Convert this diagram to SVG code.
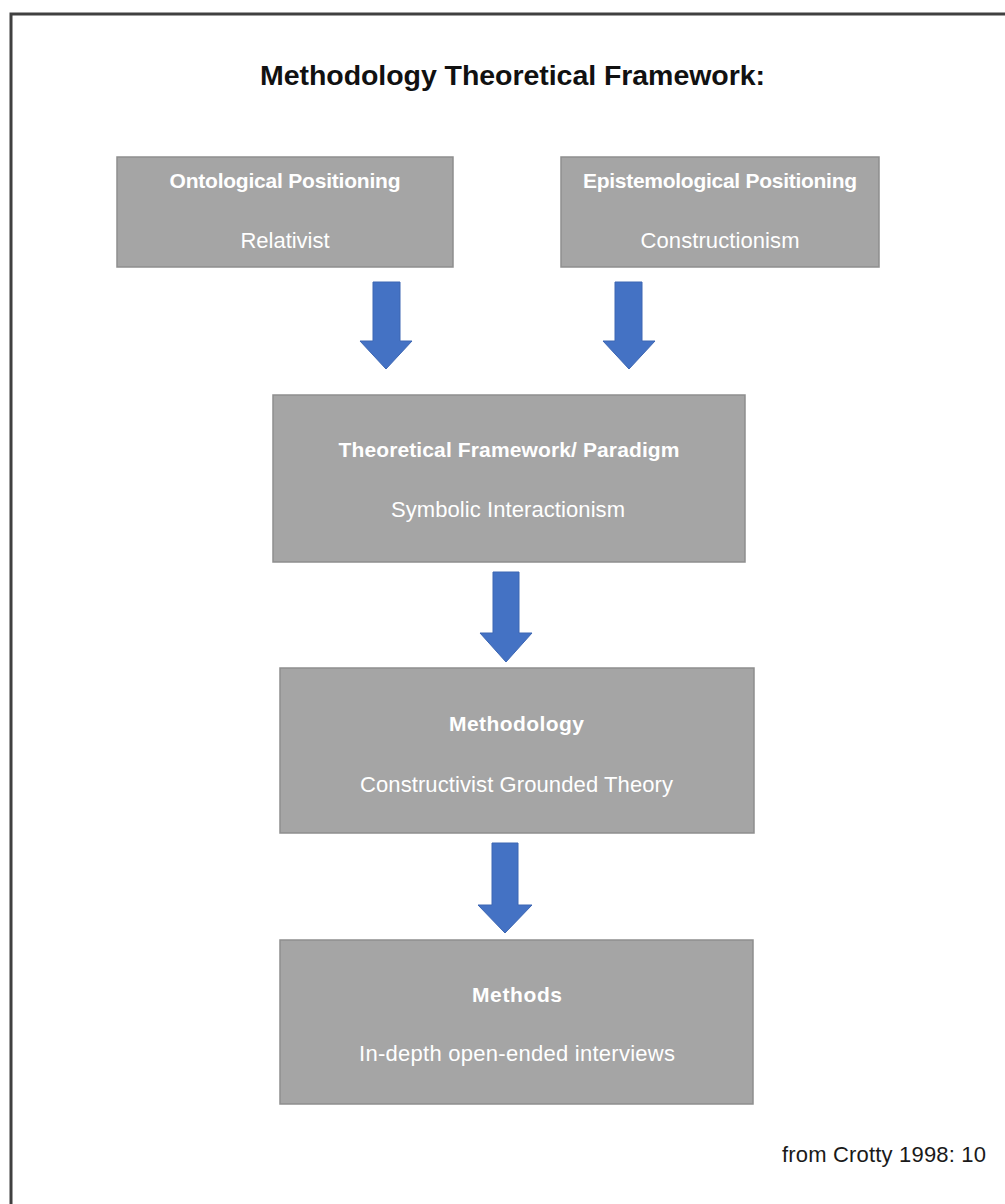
<svg xmlns="http://www.w3.org/2000/svg" width="1005" height="1204" viewBox="0 0 1005 1204">
  <style>
    .frame { fill: none; stroke: #404040; stroke-width: 3; }
    .box { fill: #a5a5a5; stroke: #8e8e8e; stroke-width: 1.5; }
    .head { font-family: "Liberation Sans", Arial, sans-serif; font-weight: bold; font-size: 21px; fill: #ffffff; text-anchor: middle; }
    .sub { font-family: "Liberation Sans", Arial, sans-serif; font-size: 22px; fill: #ffffff; text-anchor: middle; }
    .title { font-family: "Liberation Sans", Arial, sans-serif; font-weight: bold; font-size: 28.5px; fill: #111111; text-anchor: middle; }
    .note { font-family: "Liberation Sans", Arial, sans-serif; font-size: 22px; fill: #1a1a1a; }
    .arrow { fill: #4472c4; stroke: #3c66b3; stroke-width: 1; }
  </style>
  <rect x="0" y="0" width="1005" height="1204" fill="#ffffff"/>
  <!-- page frame, running off the right and bottom edges -->
  <rect class="frame" x="11" y="14" width="1100" height="1300"/>

  <text class="title" x="512.5" y="85" textLength="505">Methodology Theoretical Framework:</text>

  <g id="ontological">
    <rect class="box" x="117" y="157" width="336" height="110"/>
    <text class="head" x="285" y="188" textLength="231">Ontological Positioning</text>
    <text class="sub" x="285" y="248" textLength="89">Relativist</text>
  </g>

  <g id="epistemological">
    <rect class="box" x="561" y="157" width="318" height="110"/>
    <text class="head" x="720" y="188" textLength="274">Epistemological Positioning</text>
    <text class="sub" x="720" y="248" textLength="159">Constructionism</text>
  </g>

  <g id="paradigm">
    <rect class="box" x="273" y="395" width="472" height="167"/>
    <text class="head" x="509" y="457" textLength="341">Theoretical Framework/ Paradigm</text>
    <text class="sub" x="508" y="517" textLength="234">Symbolic Interactionism</text>
  </g>

  <g id="methodology">
    <rect class="box" x="280" y="668" width="474" height="165"/>
    <text class="head" x="516.5" y="731" textLength="135">Methodology</text>
    <text class="sub" x="516.5" y="792" textLength="313">Constructivist Grounded Theory</text>
  </g>

  <g id="methods">
    <rect class="box" x="280" y="940" width="473" height="164"/>
    <text class="head" x="517" y="1002" textLength="90">Methods</text>
    <text class="sub" x="517" y="1061" textLength="316">In-depth open-ended interviews</text>
  </g>

  <g id="connectors">
    <!-- block arrows: shaft then triangular head -->
    <path class="arrow" d="M373,282 H400 V341 H412 L386,369 L360,341 H373 Z"/>
    <path class="arrow" d="M615,282 H642 V341 H655 L629,369 L603,341 H615 Z"/>
    <path class="arrow" d="M493,572 H519 V633 H532 L506,662 L480,633 H493 Z"/>
    <path class="arrow" d="M492,843 H518 V905 H532 L505,933 L478,905 H492 Z"/>
  </g>

  <text class="note" x="782" y="1162" textLength="204">from Crotty 1998: 10</text>
</svg>
